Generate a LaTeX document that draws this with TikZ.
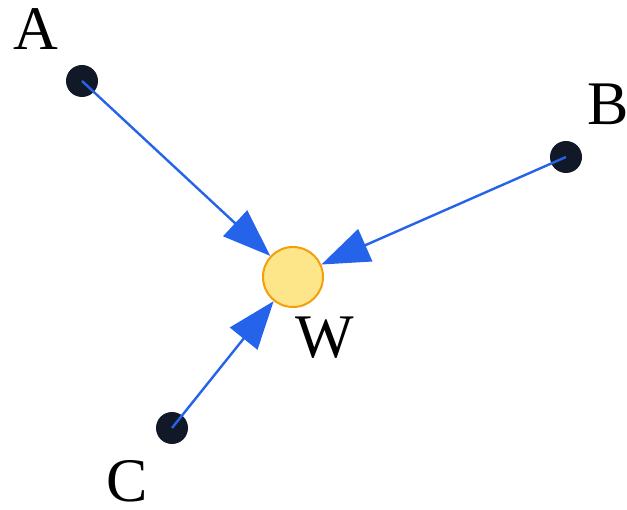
\documentclass[tikz,border=0pt]{standalone}
\usepackage{fontspec}
\setmainfont{Liberation Serif}
\usetikzlibrary{arrows.meta}
\definecolor{dotc}{HTML}{111827}
\definecolor{arrc}{HTML}{2563EB}
\definecolor{wfill}{HTML}{FDE68A}
\definecolor{wdraw}{HTML}{F59E0B}
\tikzset{
  pt/.style={circle, fill=dotc, minimum size=32pt, inner sep=0pt},
  wnode/.style={circle, fill=wfill, draw=wdraw, line width=2pt, minimum size=60pt, inner sep=0pt},
  lbl/.style={inner sep=0pt, font=\fontsize{62}{62}\selectfont},
  conn/.style={arrc, line width=2.4pt, -{Triangle[length=48pt, width=35pt]}}
}
\begin{document}
\begin{tikzpicture}[x=1pt, y=-1pt]
\useasboundingbox (0,0) rectangle (627,510);
\node[wnode] (W) at (293,277) {};
\node[pt] (A) at (82,81) {};
\node[pt] (B) at (566,157) {};
\node[pt] (C) at (172,428) {};
\node[lbl] (lA) at (36,29) {A};
\node[lbl] (lB) at (608,104) {B};
\node[lbl] (lC) at (127,481) {C};
\node[lbl] (lW) at (325,338) {W};
\draw[conn] (A.center) -- (W);
\draw[conn] (B.center) -- (W);
\draw[conn] (C.center) -- (W);
\end{tikzpicture}
\end{document}
